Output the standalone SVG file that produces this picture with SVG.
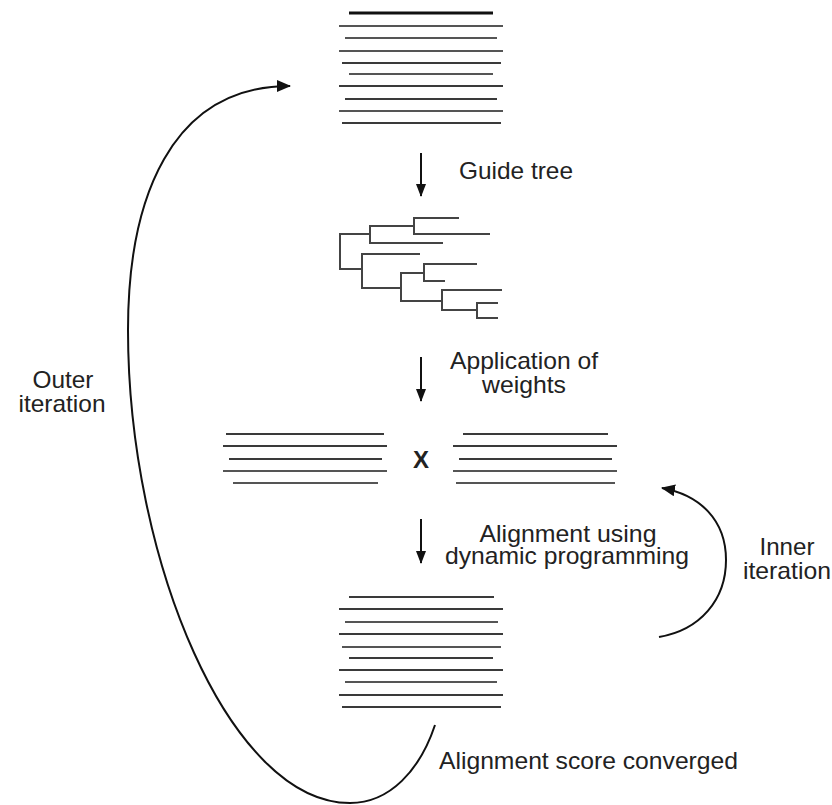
<svg xmlns="http://www.w3.org/2000/svg" width="832" height="805" viewBox="0 0 832 805">
  <defs>
    <style>
      .seq { stroke: #3a3a3a; stroke-width: 2.2; fill: none; }
      .seq2 { stroke: #555; stroke-width: 2; fill: none; }
      .tree { stroke: #444; stroke-width: 2; fill: none; stroke-linecap: square; }
      .conn { stroke: #111; stroke-width: 2; fill: none; }
      .lbl { font-family: "Liberation Sans", Arial, sans-serif; font-size: 24px; fill: #222; }
    </style>
    <marker id="ah" viewBox="0 0 14 12" refX="13" refY="6" markerWidth="14" markerHeight="12" orient="auto" markerUnits="userSpaceOnUse">
      <path d="M0,0 L14,6 L0,12 z" fill="#111"/>
    </marker>
    <marker id="ahd" viewBox="0 0 10 13" refX="5" refY="12" markerWidth="10" markerHeight="13" orient="0" markerUnits="userSpaceOnUse">
      <path d="M0,0 L10,0 L5,13 z" fill="#111"/>
    </marker>
  </defs>
  <rect width="832" height="805" fill="#fff"/>

  <g id="alignment-top">
    <line x1="349" y1="13" x2="493" y2="13" stroke="#111" stroke-width="3"/>
    <line class="seq2" x1="339" y1="26" x2="503" y2="26"/>
    <line class="seq2" x1="345" y1="38" x2="497" y2="38"/>
    <line class="seq2" x1="339" y1="51" x2="503" y2="51"/>
    <line class="seq" x1="342" y1="63" x2="501" y2="63"/>
    <line class="seq2" x1="349" y1="74" x2="493" y2="74"/>
    <line class="seq" x1="339" y1="86" x2="503" y2="86"/>
    <line class="seq" x1="345" y1="99" x2="497" y2="99"/>
    <line class="seq2" x1="339" y1="111" x2="503" y2="111"/>
    <line class="seq" x1="342" y1="123" x2="501" y2="123"/>
  </g>

  <g id="guide-tree">
    <path class="tree" d="M414,218 H458 M414,234 H489 M414,218 V234 M370,226 H414 M370,243 H442 M370,226 V243 M340,234 H370 M340,234 V269 M340,269 H362 M362,254 H419 M362,254 V288 M362,288 H401 M401,273 V301 M401,273 H424 M424,264 V281 M424,264 H476 M424,281 H444 M401,301 H442 M442,290 V310 M442,290 H501 M442,310 H477 M477,303 V318 M477,303 H497 M477,318 H497"/>
  </g>

  <g id="profile-left">
    <line class="seq" x1="226" y1="434" x2="384" y2="434"/>
    <line class="seq" x1="223" y1="446" x2="387" y2="446"/>
    <line class="seq" x1="229" y1="459" x2="382" y2="459"/>
    <line class="seq2" x1="223" y1="471" x2="387" y2="471"/>
    <line class="seq2" x1="233" y1="483" x2="378" y2="483"/>
  </g>

  <g id="times">
    <text class="lbl" x="421" y="468" text-anchor="middle" font-weight="bold">X</text>
  </g>

  <g id="profile-right">
    <line class="seq" x1="463" y1="434" x2="608" y2="434"/>
    <line class="seq" x1="453" y1="446" x2="617" y2="446"/>
    <line class="seq" x1="459" y1="459" x2="612" y2="459"/>
    <line class="seq2" x1="453" y1="471" x2="617" y2="471"/>
    <line class="seq2" x1="456" y1="483" x2="615" y2="483"/>
  </g>

  <g id="alignment-bottom">
    <line class="seq" x1="349" y1="597" x2="494" y2="597"/>
    <line class="seq" x1="339" y1="609" x2="503" y2="609"/>
    <line class="seq2" x1="345" y1="622" x2="498" y2="622"/>
    <line class="seq" x1="339" y1="634" x2="503" y2="634"/>
    <line class="seq2" x1="342" y1="647" x2="501" y2="647"/>
    <line class="seq" x1="349" y1="658" x2="493" y2="658"/>
    <line class="seq" x1="339" y1="670" x2="503" y2="670"/>
    <line class="seq2" x1="345" y1="682" x2="497" y2="682"/>
    <line class="seq" x1="339" y1="695" x2="503" y2="695"/>
    <line class="seq" x1="342" y1="707" x2="501" y2="707"/>
  </g>

  <g id="connectors">
    <line class="conn" x1="421" y1="153" x2="421" y2="196" marker-end="url(#ahd)"/>
    <line class="conn" x1="421" y1="357" x2="421" y2="401" marker-end="url(#ahd)"/>
    <line class="conn" x1="421" y1="519" x2="421" y2="563" marker-end="url(#ahd)"/>
    <path class="conn" d="M435,725 C420,770 390,803 350,803 C230,803 128,560 128,330 C128,200 170,86 290,86" marker-end="url(#ah)"/>
    <path class="conn" d="M659,637 C700,630 726,600 726,560 C726,520 700,495 662,488" marker-end="url(#ah)"/>
  </g>

  <g id="labels">
    <text class="lbl" x="459" y="179" textLength="114" lengthAdjust="spacingAndGlyphs">Guide tree</text>
    <text class="lbl" x="524" y="369" text-anchor="middle" textLength="148" lengthAdjust="spacingAndGlyphs">Application of</text>
    <text class="lbl" x="524" y="393" text-anchor="middle" textLength="84" lengthAdjust="spacingAndGlyphs">weights</text>
    <text class="lbl" x="568" y="542" text-anchor="middle" textLength="177" lengthAdjust="spacingAndGlyphs">Alignment using</text>
    <text class="lbl" x="567" y="564" text-anchor="middle" textLength="244" lengthAdjust="spacingAndGlyphs">dynamic programming</text>
    <text class="lbl" x="63" y="388" text-anchor="middle" textLength="61" lengthAdjust="spacingAndGlyphs">Outer</text>
    <text class="lbl" x="62" y="412" text-anchor="middle" textLength="87" lengthAdjust="spacingAndGlyphs">iteration</text>
    <text class="lbl" x="787" y="555" text-anchor="middle" textLength="55" lengthAdjust="spacingAndGlyphs">Inner</text>
    <text class="lbl" x="787" y="579" text-anchor="middle" textLength="88" lengthAdjust="spacingAndGlyphs">iteration</text>
    <text class="lbl" x="439" y="769" textLength="299" lengthAdjust="spacingAndGlyphs">Alignment score converged</text>
  </g>
</svg>
